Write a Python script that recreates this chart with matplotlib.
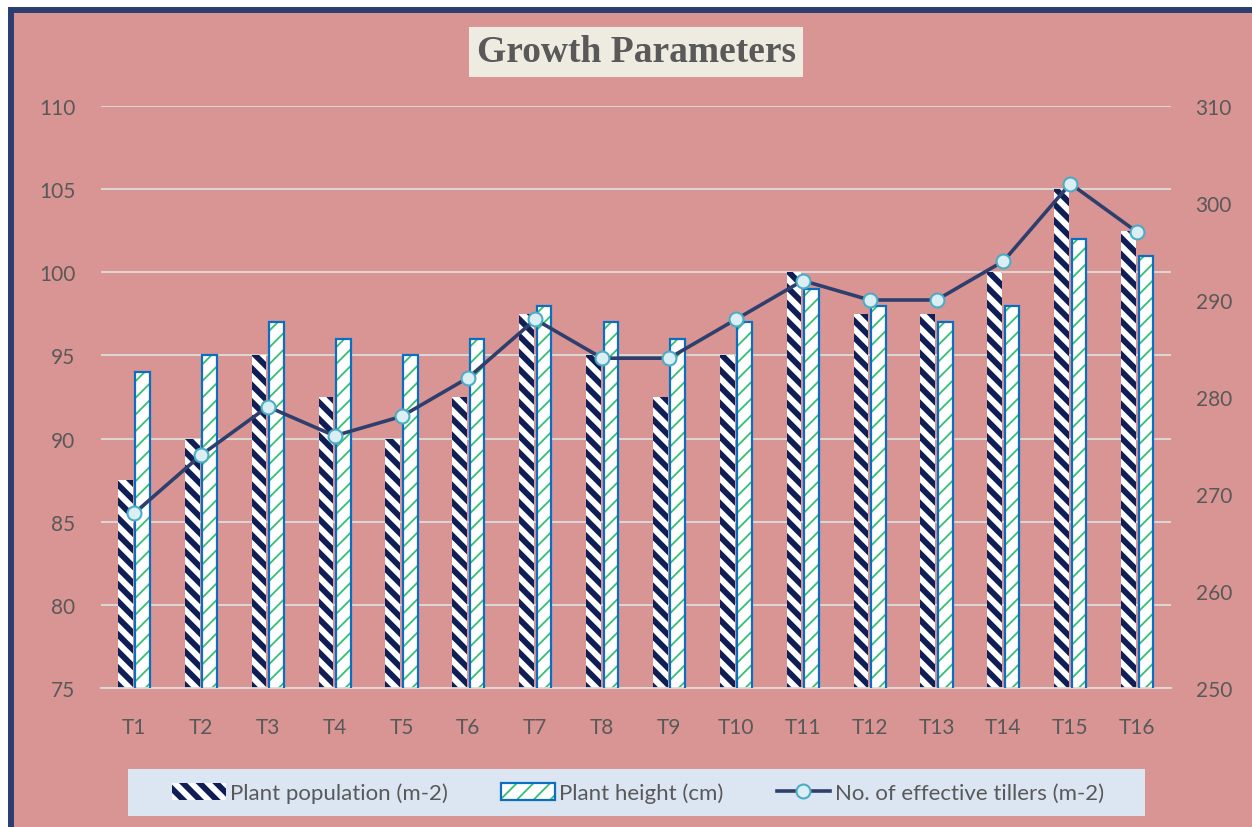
import numpy as np
import matplotlib
matplotlib.use("Agg")
import matplotlib.pyplot as plt
from matplotlib.patches import Rectangle, Patch
from matplotlib.lines import Line2D

# data
treatments = ["T1", "T2", "T3", "T4", "T5", "T6", "T7", "T8",
              "T9", "T10", "T11", "T12", "T13", "T14", "T15", "T16"]
plant_population = [87.5, 90, 95, 92.5, 90, 92.5, 97.5, 95,
                    92.5, 95, 100, 97.5, 97.5, 100, 105, 102.5]
plant_height = [94, 95, 97, 96, 95, 96, 98, 97,
                96, 97, 99, 98, 97, 98, 102, 101]
effective_tillers = [268, 274, 279, 276, 278, 282, 288, 284,
                     284, 288, 292, 290, 290, 294, 302, 297]

PINK = "#d99594"
NAVY = "#0f1f55"
GREEN = "#35c070"
BLUE = "#0a6fc2"
LINE = "#2f3f6d"
GRID = "#dcdcdc"
TXT = "#595959"
HL_POP = 4.2
HL_HGT = 1.3

plt.rcParams["font.family"] = ["Lato", "DejaVu Sans"]

fig = plt.figure(figsize=(12.52, 8.28), dpi=100)
fig.patch.set_facecolor("white")

# pink chart area with navy frame (runs off the right/bottom edge)
W, H = 1252, 828
fig.patches.append(Rectangle((11 / W, -0.05), 1.1, (H - 11) / H + 0.05,
                             transform=fig.transFigure, facecolor=PINK,
                             edgecolor="#2c3e70", linewidth=4.3, zorder=-5))
# legend background
fig.patches.append(Rectangle((128 / W, 1 - 817 / H), (1145 - 128) / W, 47 / H,
                             transform=fig.transFigure, facecolor="#dce6f2",
                             edgecolor="none", zorder=-4))


def set_hl(patches, lw):
    for p in patches:
        if hasattr(p, "set_hatch_linewidth"):
            p.set_hatch_linewidth(lw)


ax = fig.add_axes([100.6 / W, (H - 689) / H, 1070 / W, 582 / H])
ax.set_facecolor("none")
x = np.arange(len(treatments))
bw = 0.22
off = 0.13

with plt.rc_context({"hatch.linewidth": HL_POP}):
    b1 = ax.bar(x - off, plant_population, bw, color="white", edgecolor=NAVY,
                linewidth=0, hatch="\\\\", zorder=2)
with plt.rc_context({"hatch.linewidth": HL_HGT}):
    b2 = ax.bar(x + off, plant_height, bw, color="white", edgecolor=GREEN,
                linewidth=0, hatch="//", zorder=2)
ax.bar(x + off, plant_height, bw, fill=False, edgecolor=BLUE, linewidth=1.6, zorder=3)
set_hl(b1, HL_POP)
set_hl(b2, HL_HGT)

ax.set_xlim(-0.5, len(treatments) - 0.5)
ax.set_ylim(75, 110)
ax.set_yticks(np.arange(75, 111, 5))
ax.set_xticks(x)
ax.set_xticklabels(treatments)
ax.yaxis.grid(True, color=GRID, linewidth=1.3, zorder=0)
ax.set_axisbelow(True)
for s in ["top", "right", "left"]:
    ax.spines[s].set_visible(False)
ax.spines["bottom"].set_color(GRID)
ax.spines["bottom"].set_linewidth(1.3)
ax.tick_params(axis="y", length=0, pad=18, labelsize=15, labelcolor=TXT)
ax.tick_params(axis="x", length=0, pad=21, labelsize=15, labelcolor=TXT)

ax2 = ax.twinx()
ax2.set_facecolor("none")
ax2.plot(x, effective_tillers, color=LINE, linewidth=2.6, marker="o",
         markersize=10, markerfacecolor="#dbeef4", markeredgecolor="#4bacc6",
         markeredgewidth=1.5, zorder=5)
ax2.set_ylim(250, 310)
ax2.set_yticks(np.arange(250, 311, 10))
for s in ax2.spines.values():
    s.set_visible(False)
ax2.tick_params(axis="y", length=0, pad=18, labelsize=15, labelcolor=TXT)

# title
fig.text(636 / W, 1 - 53 / H, "Growth Parameters", ha="center", va="center",
         family="Liberation Serif", fontweight="bold", fontsize=27, color=TXT,
         bbox=dict(boxstyle="square,pad=0.2", facecolor="#eeece1", edgecolor="none"))

# legend
h1 = Patch(facecolor="white", edgecolor=NAVY, linewidth=0, hatch="\\\\")
h2a = Patch(facecolor="white", edgecolor=GREEN, linewidth=0, hatch="//")
h2b = Patch(fill=False, edgecolor=BLUE, linewidth=1.6)
h3 = Line2D([], [], color=LINE, linewidth=2.6, marker="o", markersize=10,
            markerfacecolor="#dbeef4", markeredgecolor="#4bacc6", markeredgewidth=1.5)
leg = fig.legend([h1, (h2a, h2b), h3],
                 ["Plant population (m-2)", "Plant height (cm)",
                  "No. of effective tillers (m-2)"],
                 loc="center", bbox_to_anchor=(638 / W, 1 - 793.5 / H),
                 ncol=3, frameon=False, fontsize=16, handlelength=2.4,
                 handleheight=0.8, handletextpad=0.2, columnspacing=2.4)
for t in leg.get_texts():
    t.set_color(TXT)
for p in leg.findobj(Patch):
    if not hasattr(p, "set_hatch_linewidth"):
        break
    if p.get_hatch() == "\\\\":
        p.set_hatch_linewidth(HL_POP)
    elif p.get_hatch() == "//":
        p.set_hatch_linewidth(HL_HGT)

fig.savefig("out.png", dpi=100)
